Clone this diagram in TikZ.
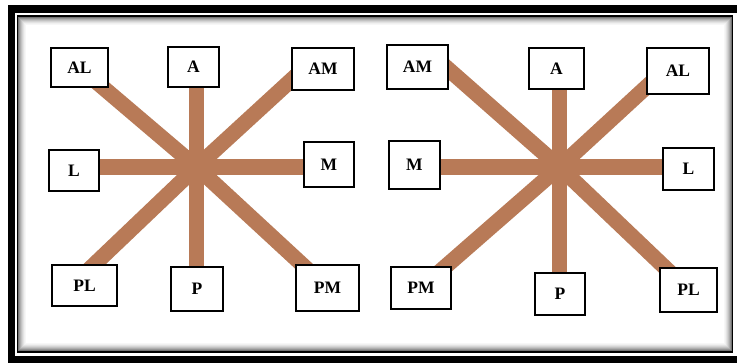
\documentclass[tikz,border=0pt]{standalone}
\usepackage{fontspec}
\setmainfont{Liberation Serif}
\usetikzlibrary{calc,backgrounds}
\definecolor{barbrown}{RGB}{184,122,87}
\begin{document}
\begin{tikzpicture}[x=1pt,y=-1pt,
  box/.style={draw=black, fill=white, line width=1.2pt, inner sep=0pt,
              font=\fontsize{17.5}{17.5}\selectfont\bfseries},
  wh/.style 2 args={minimum width=#1pt, minimum height=#2pt},
  bar/.style={draw=barbrown, line width=15.5pt},
]
\useasboundingbox (0,0) rectangle (737,362);

% left star: labels
\coordinate (c1) at (196.5,167);
\node[box, wh={57}{39}] (lAL) at (79.5,67.5) {AL};
\node[box, wh={51}{40}] (lA)  at (193.5,67) {A};
\node[box, wh={62}{42}] (lAM) at (323,69) {AM};
\node[box, wh={50}{41}] (lL)  at (74,170.5) {L};
\node[box, wh={50}{45}] (lM)  at (329,164.5) {M};
\node[box, wh={65}{41}] (lPL) at (84.5,285.5) {PL};
\node[box, wh={52}{44}] (lP)  at (197,289) {P};
\node[box, wh={63}{46}] (lPM) at (327.5,288) {PM};

% right star: labels (mirrored order)
\coordinate (c2) at (559.5,167);
\node[box, wh={61}{44}] (rAM) at (417.5,67) {AM};
\node[box, wh={55}{41}] (rA)  at (556.5,68.5) {A};
\node[box, wh={62}{46}] (rAL) at (678,71) {AL};
\node[box, wh={51}{48}] (rM)  at (414.5,165) {M};
\node[box, wh={51}{42}] (rL)  at (688.5,169) {L};
\node[box, wh={60}{42}] (rPM) at (421,288) {PM};
\node[box, wh={50}{42}] (rP)  at (560,294) {P};
\node[box, wh={57}{44}] (rPL) at (688.5,290) {PL};

\begin{scope}[on background layer]
  % page and double frame with inner shadow
  \fill[white] (0,0) rectangle (737,362);
  \draw[line width=7.5pt] (11.5,9) rectangle (742,359.5);
  \draw[line width=1.5pt] (17.25,16) rectangle (732.5,352);
  \foreach \i/\c in {0/55,1/42,2/32,3/24,4/17,5/11,6/6,7/3}
    \draw[black!\c, line width=1pt] (18.5+\i,17.5+\i) rectangle (731.5-\i,350.5-\i);

  % left star bars
  \draw[bar] (c1) -- (lAL.center);
  \draw[bar] (c1) -- (c1 |- lA.center);
  \draw[bar] (c1) -- ($(lAM.west)+(13,-1)$);
  \draw[bar] (c1) -- (c1 -| lL.center);
  \draw[bar] (c1) -- (c1 -| lM.center);
  \draw[bar] (c1) -- ($(lPL.center)+(-7,-5)$);
  \draw[bar] (c1) -- (c1 |- lP.center);
  \draw[bar] (c1) -- (lPM.center);

  % right star bars
  \draw[bar] (c2) -- ($(rAM.east)+(-13,-9)$);
  \draw[bar] (c2) -- (c2 |- rA.center);
  \draw[bar] (c2) -- ($(rAL.west)+(13,4)$);
  \draw[bar] (c2) -- (c2 -| rM.center);
  \draw[bar] (c2) -- (c2 -| rL.center);
  \draw[bar] (c2) -- (rPM.center);
  \draw[bar] (c2) -- (c2 |- rP.center);
  \draw[bar] (c2) -- (rPL.center);
\end{scope}
\end{tikzpicture}
\end{document}
